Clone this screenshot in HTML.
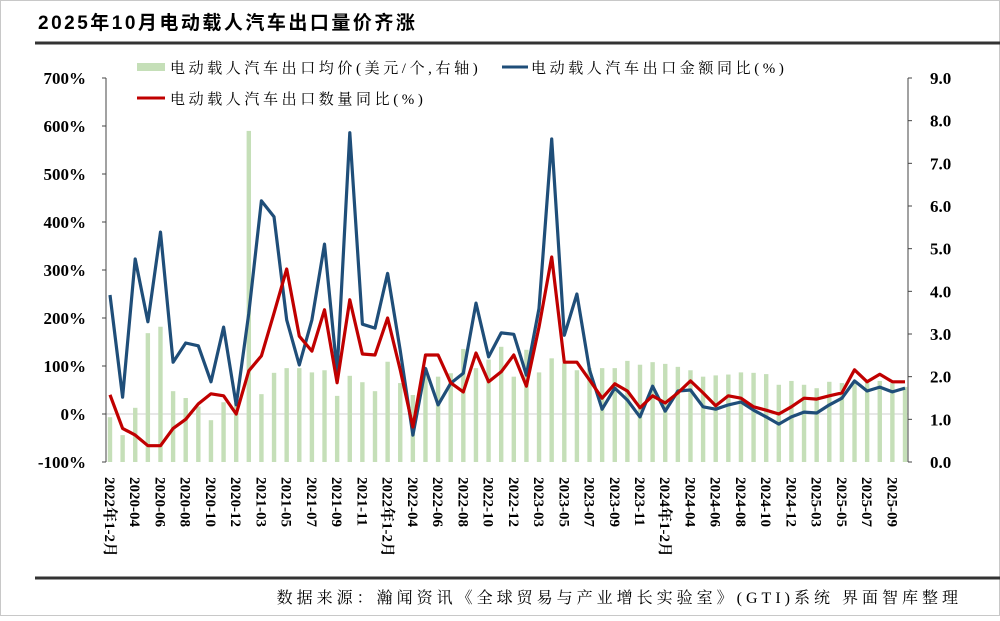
<!DOCTYPE html>
<html><head><meta charset="utf-8"><style>
body{margin:0;background:#fff;width:1000px;height:616px;overflow:hidden;}
svg text{font-family:"Liberation Serif","Noto Serif CJK SC",serif;}
</style></head><body>
<svg width="1000" height="616" viewBox="0 0 1000 616" id="chart">
<rect x="0.5" y="0.5" width="999" height="615" fill="#fff" stroke="#c8c8c8"/>
<text x="38" y="29" font-size="19" font-weight="bold" letter-spacing="2.5" style="font-family:'Liberation Sans','Noto Sans CJK SC',sans-serif">2025年10月电动载人汽车出口量价齐涨</text>
<line x1="35" y1="43" x2="1000" y2="43" stroke="#333" stroke-width="3"/>
<line x1="35" y1="578" x2="1000" y2="578" stroke="#333" stroke-width="3"/>
<text x="962" y="603" font-size="16" letter-spacing="4" text-anchor="end">数据来源：瀚闻资讯《全球贸易与产业增长实验室》(GTI)系统  界面智库整理</text>
<g>
<rect x="137" y="63" width="28" height="8" fill="#c5dfb8"/>
<text x="170" y="73" font-size="15" letter-spacing="3.6">电动载人汽车出口均价(美元/个,右轴)</text>
<line x1="502" y1="67" x2="528" y2="67" stroke="#1f4e79" stroke-width="3"/>
<text x="531" y="73" font-size="15" letter-spacing="3.6">电动载人汽车出口金额同比(%)</text>
<line x1="137" y1="98" x2="165" y2="98" stroke="#c00000" stroke-width="3"/>
<text x="170" y="104" font-size="15" letter-spacing="3.6">电动载人汽车出口数量同比(%)</text>
</g>
<g id="plot"></g>
</svg>
<script>
const categories=["2022年1-2月","2020-03","2020-04","2020-05","2020-06","2020-07","2020-08","2020-09","2020-10","2020-11","2020-12","2021-01/02","2021-03","2021-04","2021-05","2021-06","2021-07","2021-08","2021-09","2021-10","2021-11","2021-12","2022年1-2月","2022-03","2022-04","2022-05","2022-06","2022-07","2022-08","2022-09","2022-10","2022-11","2022-12","2023-01/02","2023-03","2023-04","2023-05","2023-06","2023-07","2023-08","2023-09","2023-10","2023-11","2023-12","2024年1-2月","2024-03","2024-04","2024-05","2024-06","2024-07","2024-08","2024-09","2024-10","2024-11","2024-12","2025-01/02","2025-03","2025-04","2025-05","2025-06","2025-07","2025-08","2025-09","2025-10"];
const priceValues=[1.05,0.63,1.27,3.02,3.17,1.66,1.5,1.3,0.98,1.4,1.38,7.76,1.59,2.09,2.2,2.2,2.1,2.15,1.55,2.02,1.87,1.66,2.35,1.85,1.57,2.2,2.0,2.08,2.65,2.2,2.4,2.7,2.0,2.63,2.1,2.43,2.32,2.15,2.2,2.2,2.2,2.37,2.28,2.34,2.3,2.23,2.15,2.0,2.03,2.05,2.1,2.09,2.06,1.81,1.9,1.81,1.73,1.88,1.85,1.9,1.88,1.9,1.85,1.76];
const amountYoY=[248,35,323,192,379,108,148,142,67,181,19,210,444,411,196,102,196,354,88,586,187,179,293,133,-44,95,19,64,85,231,119,169,166,81,220,573,164,250,92,10,54,29,-6,58,6,48,50,15,10,19,25,8,-6,-21,-6,4,2,19,33,69,48,56,46,54];
const quantityYoY=[40,-30,-44,-66,-66,-30,-11,21,42,38,0,90,121,210,302,162,131,217,65,238,125,123,200,92,-27,123,123,65,46,127,67,88,123,58,181,327,108,108,71,33,63,48,13,38,23,44,69,44,17,38,33,15,8,0,15,33,31,38,44,92,67,83,67,67];
const leftTicks=["-100%","0%","100%","200%","300%","400%","500%","600%","700%"];
const leftTickValues=[-100,0,100,200,300,400,500,600,700];
const rightTickValues=[0,1,2,3,4,5,6,7,8,9];
const rightTicks=["0.0","1.0","2.0","3.0","4.0","5.0","6.0","7.0","8.0","9.0"];

const NS="http://www.w3.org/2000/svg";
const g=document.getElementById('plot');
const X0=110,X1=905,YT=78,YB=462;
function xPos(i){return X0+(X1-X0)*i/(categories.length-1);}
function yL(v){return YB-(v+100)/800*(YB-YT);}
function yR(v){return YB-v/9*(YB-YT);}
function mk(tag,attrs){const e=document.createElementNS(NS,tag);for(const k in attrs)e.setAttribute(k,attrs[k]);g.appendChild(e);return e;}

let zl=mk('line',{x1:106,x2:908,y1:yL(0),y2:yL(0),stroke:'#cfcfcf','stroke-width':1});


priceValues.forEach((v,i)=>{
  const b=mk('rect',{x:xPos(i)-2.2,y:yR(v),width:4.4,height:YB-yR(v),fill:'#c5dfb8'});
  
  
});
let la=mk('line',{x1:106,x2:106,y1:YT,y2:YB,stroke:'#444','stroke-width':1});


let ra=mk('line',{x1:908,x2:908,y1:YT,y2:YB,stroke:'#444','stroke-width':1});


leftTickValues.forEach((v,i)=>{
  const y=yL(v);
  const t=mk('line',{x1:102,x2:106,y1:y,y2:y,stroke:'#444'});
  
  
  const tx=mk('text',{x:86,y:y+6,'text-anchor':'end','font-size':17,'font-weight':'bold'});
  tx.textContent=leftTicks[i];
  
  
});
rightTickValues.forEach((v,i)=>{
  const y=yR(v);
  const t=mk('line',{x1:908,x2:912,y1:y,y2:y,stroke:'#444'});
  
  
  const tx=mk('text',{x:930,y:y+6,'font-size':17,'font-weight':'bold'});
  tx.textContent=rightTicks[i];
  
  
});
categories.forEach((c,i)=>{
  if(i%2!==0) return;
  const x=xPos(i)-5;
  const tx=mk('text',{x:x,y:477,'font-size':15,'font-weight':'bold',transform:`rotate(90 ${x} 477)`});
  tx.textContent=c;
  
  
});
function line(vals,color,name){
  const d=vals.map((v,i)=>(i?'L':'M')+xPos(i).toFixed(1)+' '+yL(v).toFixed(1)).join(' ');
  const p=mk('path',{d:d,fill:'none',stroke:color,'stroke-width':3.2,'stroke-linejoin':'round'});
  
  
}
line(amountYoY,'#1f4e79','amount-yoy-line');
line(quantityYoY,'#c00000','quantity-yoy-line');
</script>
</body></html>
